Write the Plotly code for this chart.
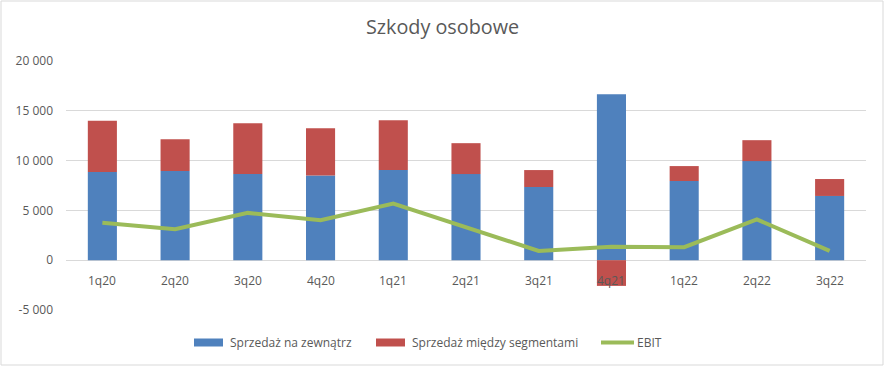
import plotly.graph_objects as go

categories = ["1q20", "2q20", "3q20", "4q20", "1q21", "2q21", "3q21", "4q21", "1q22", "2q22", "3q22"]
sprzedaz_zewn = [8850, 8950, 8650, 8500, 9050, 8650, 7350, 16670, 7950, 9950, 6450]
sprzedaz_miedzy = [5150, 3200, 5100, 4750, 5000, 3100, 1700, -2580, 1500, 2100, 1700]
ebit = [3750, 3120, 4750, 4020, 5690, 3350, 930, 1340, 1310, 4090, 930]

y_tickvals = [-5000, 0, 5000, 10000, 15000, 20000]
y_ticktext = ["-5 000", "0", "5 000", "10 000", "15 000", "20 000"]

FONT = "Open Sans"
TXT = "#595959"
C_BLUE, C_RED, C_GREEN = "#4F81BD", "#C0504D", "#9BBB59"

# plot area in pixels
L, R, T, B = 66, 866, 61, 310
def px(x):
    return (x - L) / (R - L)
def py(y):
    return (B - y) / (B - T)

fig = go.Figure()
fig.add_trace(go.Bar(x=categories, y=sprzedaz_zewn, name="Sprzedaż na zewnątrz",
                     marker=dict(color=C_BLUE, line=dict(width=0))))
fig.add_trace(go.Bar(x=categories, y=sprzedaz_miedzy, name="Sprzedaż między segmentami",
                     marker=dict(color=C_RED, line=dict(width=0))))
fig.add_trace(go.Scatter(x=categories, y=ebit, name="EBIT", mode="lines",
                         line=dict(color=C_GREEN, width=4)))

legend_items = [
    ("rect", C_BLUE, 194, 223, "Sprzedaż na zewnątrz", 228),
    ("rect", C_RED, 376, 405, "Sprzedaż między segmentami", 410),
    ("line", C_GREEN, 601, 634, "EBIT", 635),
]
shapes = [dict(type="rect", xref="paper", yref="paper",
               x0=px(1), x1=px(883), y0=py(365), y1=py(1),
               line=dict(color="#D9D9D9", width=1), layer="below")]
annotations = []
for kind, col, x0, x1, label, tx in legend_items:
    if kind == "rect":
        shapes.append(dict(type="rect", xref="paper", yref="paper",
                           x0=px(x0), x1=px(x1), y0=py(346.5), y1=py(338.5),
                           fillcolor=col, line=dict(width=0)))
    else:
        shapes.append(dict(type="line", xref="paper", yref="paper",
                           x0=px(x0), x1=px(x1), y0=py(342.5), y1=py(342.5),
                           line=dict(color=col, width=4)))
    annotations.append(dict(text=label, xref="paper", yref="paper", x=px(tx), y=py(342.5),
                            xanchor="left", yanchor="middle", showarrow=False,
                            font=dict(family=FONT, size=12, color=TXT)))

# category labels drawn at the zero line (above the bars, as in the original)
for c in categories:
    annotations.append(dict(text=c, xref="x", yref="y", x=c, y=0, yshift=-20,
                            xanchor="center", yanchor="middle", showarrow=False,
                            font=dict(family=FONT, size=12, color=TXT)))

fig.update_layout(
    width=885, height=367,
    barmode="relative", bargap=0.6,
    paper_bgcolor="white", plot_bgcolor="white",
    margin=dict(l=L, r=885 - R, t=T, b=367 - B),
    title=dict(text="Szkody osobowe", x=0.5, xref="container", xanchor="center",
               y=1 - 27 / 367, yref="container", yanchor="middle",
               font=dict(family=FONT, size=19.8, color=TXT)),
    font=dict(family=FONT, size=12, color=TXT),
    showlegend=False,
    hovermode=False,
    xaxis=dict(type="category", showgrid=False, showline=False, zeroline=False,
               showticklabels=False, ticks=""),
    yaxis=dict(range=[-5000, 20000], tickvals=y_tickvals, ticktext=y_ticktext,
               showgrid=True, gridcolor="#D9D9D9", gridwidth=1, zeroline=True,
               zerolinecolor="#D9D9D9", zerolinewidth=1, showline=False,
               ticklabelstandoff=12, tickfont=dict(family=FONT, size=12, color=TXT)),
    shapes=shapes,
    annotations=annotations,
)

fig.write_html("out.html", config={"displayModeBar": False},
               post_script="document.body.style.margin='0';")
